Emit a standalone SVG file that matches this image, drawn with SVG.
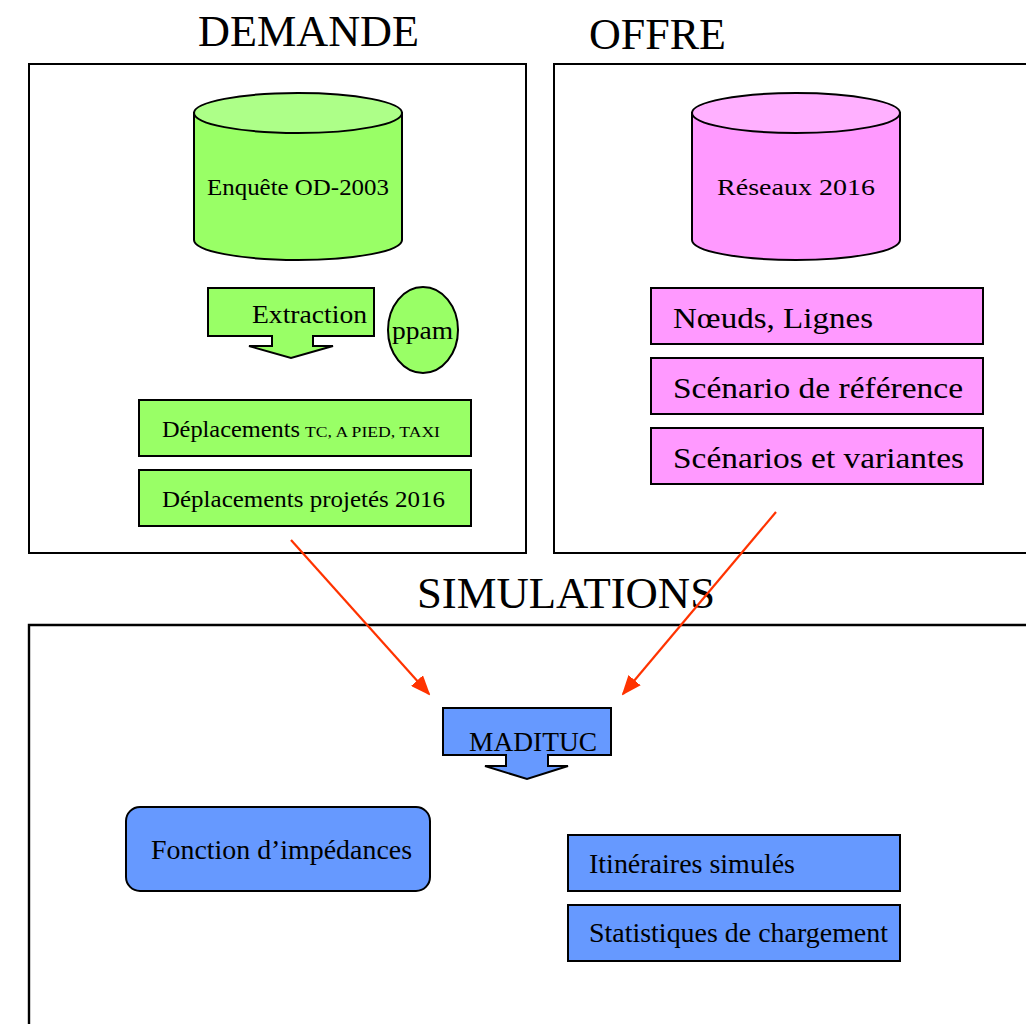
<svg xmlns="http://www.w3.org/2000/svg" width="1026" height="1024" viewBox="0 0 1026 1024">
<style>
text{font-family:"Liberation Serif","Times New Roman",serif;fill:#000}
.frame{fill:none;stroke:#000;stroke-width:2}
.g{fill:#99FF66;stroke:#000;stroke-width:2}
.gt{fill:#ADFF88;stroke:#000;stroke-width:2}
.p{fill:#FF99FF;stroke:#000;stroke-width:2}
.pt{fill:#FFB0FF;stroke:#000;stroke-width:2}
.b{fill:#6699FF;stroke:#000;stroke-width:2}
.title{font-size:45px}
.conn{stroke:#FF3300;stroke-width:2.2;fill:none}
</style>
<defs>
<marker id="ah" markerUnits="userSpaceOnUse" markerWidth="20" markerHeight="16" viewBox="0 0 20 16" refX="18" refY="8" orient="auto">
<path d="M0,0 L20,8 L0,16 Z" fill="#FF3300"/>
</marker>
</defs>
<rect width="1026" height="1024" fill="#fff"/>

<g id="frames">
<rect class="frame" x="29" y="64" width="497" height="489"/>
<path class="frame" d="M1030,64 H554 V553 H1030"/>
<path class="frame" d="M29,1030 V625 H1030" style="stroke-width:2.4"/>
<text class="title" x="198" y="46" textLength="221" lengthAdjust="spacingAndGlyphs">DEMANDE</text>
<text class="title" x="589" y="49" textLength="137" lengthAdjust="spacingAndGlyphs">OFFRE</text>
<text class="title" x="417" y="608" textLength="298" lengthAdjust="spacingAndGlyphs">SIMULATIONS</text>
</g>

<g id="enquete">
<path class="g" d="M194,113 V240 A104,20 0 0 0 402,240 V113 Z"/>
<ellipse class="gt" cx="298" cy="113" rx="104" ry="20"/>
<text x="207" y="195" font-size="23" textLength="182" lengthAdjust="spacingAndGlyphs">Enquête OD-2003</text>
</g>

<g id="extraction">
<path class="g" d="M208,288 H374 V336 H313 V346 H333 L291,358 L249,346 H272 V336 H208 Z"/>
<text x="252" y="323" font-size="25" textLength="115" lengthAdjust="spacingAndGlyphs">Extraction</text>
</g>

<g id="ppam">
<ellipse class="g" cx="423" cy="330" rx="35" ry="43"/>
<text x="392" y="339" font-size="25" textLength="61" lengthAdjust="spacingAndGlyphs">ppam</text>
</g>

<g id="deplacements">
<rect class="g" x="139" y="400" width="332" height="56"/>
<text x="162" y="437" font-size="23"><tspan textLength="138" lengthAdjust="spacingAndGlyphs">Déplacements</tspan><tspan x="305" font-size="15" textLength="135" lengthAdjust="spacingAndGlyphs">TC, A PIED, TAXI</tspan></text>
</g>

<g id="projetes">
<rect class="g" x="139" y="470" width="332" height="56"/>
<text x="162" y="507" font-size="23" textLength="283" lengthAdjust="spacingAndGlyphs">Déplacements projetés 2016</text>
</g>

<g id="reseaux">
<path class="p" d="M692,113 V240 A104,20 0 0 0 900,240 V113 Z"/>
<ellipse class="pt" cx="796" cy="113" rx="104" ry="20"/>
<text x="717" y="195" font-size="23" textLength="158" lengthAdjust="spacingAndGlyphs">Réseaux 2016</text>
</g>

<g id="noeuds">
<rect class="p" x="651" y="288" width="332" height="56"/>
<text x="673" y="328" font-size="30" textLength="200" lengthAdjust="spacingAndGlyphs">Nœuds, Lignes</text>
</g>
<g id="scenario-ref">
<rect class="p" x="651" y="358" width="332" height="56"/>
<text x="673" y="398" font-size="30" textLength="290" lengthAdjust="spacingAndGlyphs">Scénario de référence</text>
</g>
<g id="scenarios">
<rect class="p" x="651" y="428" width="332" height="56"/>
<text x="673" y="468" font-size="30" textLength="291" lengthAdjust="spacingAndGlyphs">Scénarios et variantes</text>
</g>

<g id="madituc">
<path class="b" d="M443,708 H611 V755 H548 V766 H568 L527,779 L485,766 H506 V755 H443 Z"/>
<text x="469" y="751" font-size="28" textLength="128" lengthAdjust="spacingAndGlyphs">MADITUC</text>
</g>

<g id="fonction">
<rect class="b" x="126" y="807" width="304" height="84" rx="14"/>
<text x="151" y="859" font-size="27" textLength="261" lengthAdjust="spacingAndGlyphs">Fonction d’impédances</text>
</g>

<g id="itineraires">
<rect class="b" x="568" y="835" width="332" height="56"/>
<text x="589" y="873" font-size="27" textLength="206" lengthAdjust="spacingAndGlyphs">Itinéraires simulés</text>
</g>
<g id="statistiques">
<rect class="b" x="568" y="905" width="332" height="56"/>
<text x="589" y="942" font-size="27" textLength="299" lengthAdjust="spacingAndGlyphs">Statistiques de chargement</text>
</g>

<g id="connectors">
<line class="conn" x1="291" y1="540" x2="429" y2="694" marker-end="url(#ah)"/>
<line class="conn" x1="776" y1="512" x2="623" y2="694" marker-end="url(#ah)"/>
</g>
</svg>
